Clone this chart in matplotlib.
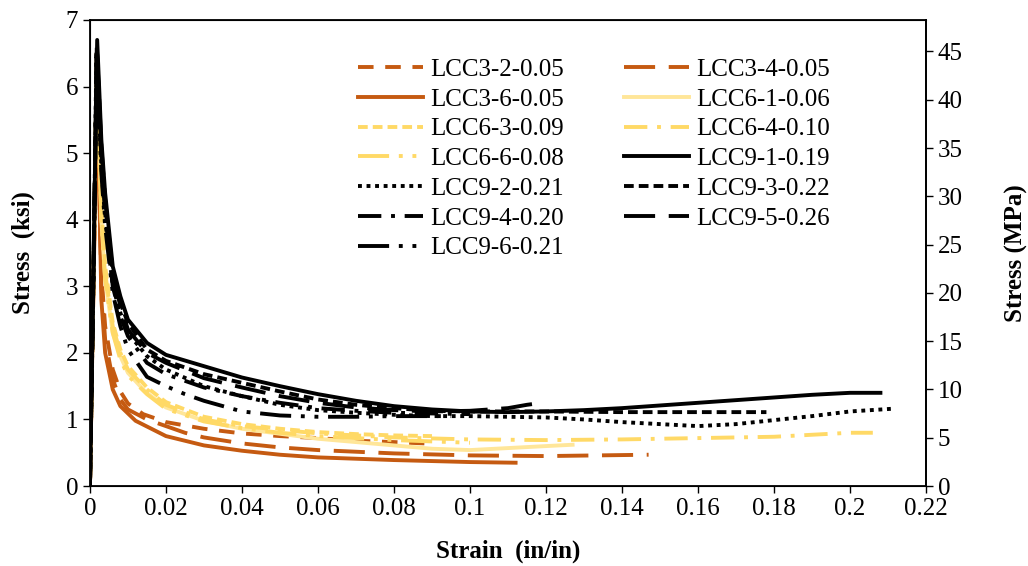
import matplotlib.pyplot as plt

plt.rcParams['font.family'] = ['Liberation Serif', 'DejaVu Serif']
plt.rcParams['font.size'] = 18

KSI_TO_MPA = 6.894757

names = ['LCC3-2-0.05', 'LCC3-4-0.05', 'LCC3-6-0.05', 'LCC6-1-0.06', 'LCC6-3-0.09',
         'LCC6-4-0.10', 'LCC6-6-0.08', 'LCC9-1-0.19', 'LCC9-2-0.21', 'LCC9-3-0.22',
         'LCC9-4-0.20', 'LCC9-5-0.26', 'LCC9-6-0.21']

# strain (in/in) and stress (ksi) for each specimen
lcc3_2_x = [0, 0.001, 0.0019, 0.003, 0.004, 0.006, 0.008, 0.01, 0.014, 0.02, 0.03, 0.04, 0.05, 0.06, 0.07, 0.08, 0.088]
lcc3_2_y = [0, 3.3, 6.2, 3.2, 2.4, 1.75, 1.42, 1.24, 1.08, 0.96, 0.86, 0.79, 0.75, 0.72, 0.68, 0.66, 0.64]

lcc3_4_x = [0, 0.001, 0.0019, 0.003, 0.004, 0.006, 0.008, 0.01, 0.015, 0.02, 0.025, 0.03, 0.04, 0.05, 0.06, 0.08, 0.1, 0.12, 0.147]
lcc3_4_y = [0, 3.2, 6.0, 3.0, 2.2, 1.6, 1.3, 1.15, 1.0, 0.9, 0.8, 0.73, 0.64, 0.58, 0.54, 0.49, 0.46, 0.45, 0.47]

lcc3_6_x = [0, 0.001, 0.0019, 0.003, 0.004, 0.006, 0.008, 0.012, 0.02, 0.03, 0.04, 0.05, 0.06, 0.08, 0.1, 0.112]
lcc3_6_y = [0, 3.3, 6.2, 2.8, 2.0, 1.45, 1.2, 0.98, 0.75, 0.61, 0.53, 0.47, 0.43, 0.39, 0.36, 0.35]

lcc6_1_x = [0, 0.001, 0.0018, 0.003, 0.004, 0.006, 0.008, 0.01, 0.0145, 0.02, 0.03, 0.04, 0.06, 0.08, 0.09, 0.1, 0.11, 0.12, 0.127]
lcc6_1_y = [0, 3.4, 6.4, 4.0, 3.1, 2.3, 1.95, 1.7, 1.42, 1.18, 0.98, 0.86, 0.71, 0.61, 0.56, 0.54, 0.57, 0.6, 0.62]

lcc6_3_x = [0, 0.001, 0.0018, 0.003, 0.004, 0.006, 0.008, 0.01, 0.015, 0.02, 0.03, 0.04, 0.05, 0.06, 0.07, 0.08, 0.09]
lcc6_3_y = [0, 3.4, 6.4, 4.2, 3.3, 2.45, 2.05, 1.8, 1.48, 1.26, 1.04, 0.93, 0.86, 0.81, 0.78, 0.76, 0.75]

lcc6_4_x = [0, 0.001, 0.0018, 0.003, 0.004, 0.006, 0.008, 0.01, 0.015, 0.02, 0.03, 0.04, 0.06, 0.08, 0.1, 0.12, 0.14, 0.16, 0.18, 0.19, 0.2, 0.206]
lcc6_4_y = [0, 3.4, 6.5, 4.1, 3.2, 2.4, 2.0, 1.75, 1.45, 1.22, 1.0, 0.9, 0.79, 0.73, 0.7, 0.69, 0.7, 0.72, 0.74, 0.77, 0.8, 0.8]

lcc6_6_x = [0, 0.001, 0.0018, 0.003, 0.004, 0.006, 0.008, 0.01, 0.015, 0.02, 0.03, 0.04, 0.05, 0.06, 0.08, 0.1]
lcc6_6_y = [0, 3.4, 6.3, 4.0, 3.1, 2.3, 1.9, 1.66, 1.38, 1.16, 0.97, 0.87, 0.8, 0.75, 0.69, 0.65]

lcc9_1_x = [0, 0.001, 0.0019, 0.003, 0.004, 0.006, 0.008, 0.01, 0.015, 0.02, 0.03, 0.04, 0.05, 0.06, 0.07, 0.08, 0.09, 0.1,
            0.11, 0.12, 0.13, 0.14, 0.15, 0.16, 0.17, 0.18, 0.19, 0.2, 0.208]
lcc9_1_y = [0, 3.6, 6.7, 5.2, 4.4, 3.3, 2.85, 2.5, 2.15, 1.97, 1.8, 1.63, 1.5, 1.38, 1.28, 1.2, 1.15, 1.12,
            1.11, 1.12, 1.14, 1.17, 1.21, 1.25, 1.29, 1.33, 1.37, 1.4, 1.4]

lcc9_2_x = [0, 0.001, 0.0017, 0.003, 0.004, 0.006, 0.008, 0.01, 0.015, 0.02, 0.03, 0.04, 0.05, 0.06, 0.07, 0.08, 0.09, 0.1,
            0.11, 0.12, 0.13, 0.14, 0.15, 0.16, 0.17, 0.18, 0.19, 0.2, 0.211]
lcc9_2_y = [0, 3.4, 6.5, 4.8, 4.0, 3.0, 2.6, 2.3, 1.95, 1.75, 1.5, 1.35, 1.22, 1.14, 1.1, 1.07, 1.05, 1.05,
            1.04, 1.03, 1.0, 0.96, 0.93, 0.9, 0.93, 0.99, 1.05, 1.12, 1.16]

lcc9_3_x = [0, 0.001, 0.0018, 0.003, 0.004, 0.006, 0.008, 0.01, 0.015, 0.02, 0.03, 0.04, 0.05, 0.06, 0.07, 0.08, 0.09, 0.1,
            0.12, 0.14, 0.16, 0.178]
lcc9_3_y = [0, 3.5, 6.6, 5.0, 4.2, 3.2, 2.75, 2.45, 2.05, 1.88, 1.68, 1.55, 1.42, 1.3, 1.22, 1.17, 1.13, 1.12,
            1.12, 1.11, 1.11, 1.11]

lcc9_4_x = [0, 0.001, 0.0018, 0.003, 0.004, 0.006, 0.008, 0.01, 0.015, 0.02, 0.03, 0.04, 0.05, 0.06, 0.07, 0.08, 0.09, 0.1]
lcc9_4_y = [0, 3.4, 6.5, 4.9, 4.1, 3.0, 2.55, 2.25, 1.85, 1.68, 1.48, 1.35, 1.25, 1.17, 1.13, 1.1, 1.09, 1.08]

lcc9_5_x = [0, 0.001, 0.0018, 0.003, 0.004, 0.006, 0.008, 0.01, 0.015, 0.02, 0.03, 0.04, 0.05, 0.06, 0.07, 0.08, 0.09, 0.1,
            0.11, 0.115, 0.119]
lcc9_5_y = [0, 3.5, 6.6, 5.1, 4.3, 3.2, 2.7, 2.35, 2.0, 1.85, 1.62, 1.48, 1.35, 1.25, 1.18, 1.14, 1.12, 1.13,
            1.17, 1.22, 1.25]

lcc9_6_x = [0, 0.001, 0.0018, 0.003, 0.004, 0.006, 0.008, 0.01, 0.015, 0.02, 0.025, 0.03, 0.035, 0.04, 0.05, 0.06, 0.07,
            0.08, 0.09, 0.095]
lcc9_6_y = [0, 3.4, 6.5, 4.7, 3.9, 2.9, 2.4, 2.05, 1.64, 1.5, 1.38, 1.28, 1.2, 1.12, 1.06, 1.04, 1.04,
            1.05, 1.05, 1.05]

strains = [lcc3_2_x, lcc3_4_x, lcc3_6_x, lcc6_1_x, lcc6_3_x, lcc6_4_x, lcc6_6_x,
           lcc9_1_x, lcc9_2_x, lcc9_3_x, lcc9_4_x, lcc9_5_x, lcc9_6_x]
stresses = [lcc3_2_y, lcc3_4_y, lcc3_6_y, lcc6_1_y, lcc6_3_y, lcc6_4_y, lcc6_6_y,
            lcc9_1_y, lcc9_2_y, lcc9_3_y, lcc9_4_y, lcc9_5_y, lcc9_6_y]

orange = '#C55A11'
light = '#FFE699'
yellow = '#FFD966'
colors = [orange, orange, orange, light, yellow, yellow, yellow,
          'black', 'black', 'black', 'black', 'black', 'black']
styles = [(0, (4, 3)), (0, (8, 3.5)), '-', '-', (0, (2.5, 1.3)), (0, (6, 2.5, 1, 2.5)), (0, (8, 2.5, 1, 2.5, 1, 2.5)),
          '-', (0, (1, 1.2)), (0, (2.5, 1.3)), (0, (6, 2.5, 1, 2.5)), (0, (8, 3.5)), (0, (8, 2.5, 1, 2.5, 1, 2.5))]

fig = plt.figure(figsize=(10.28, 5.66), dpi=100)
ax = fig.add_axes([0.0875, 0.1413, 0.8133, 0.8234])

handles = []
for x, y, c, ls, name in zip(strains, stresses, colors, styles, names):
    line, = ax.plot(x, y, color=c, linestyle=ls, linewidth=2.8, label=name)
    handles.append(line)

ax.set_xlim(0, 0.22)
ax.set_ylim(0, 7)
ax.set_xticks([0, 0.02, 0.04, 0.06, 0.08, 0.1, 0.12, 0.14, 0.16, 0.18, 0.2, 0.22])
ax.set_xticklabels(['0', '0.02', '0.04', '0.06', '0.08', '0.1', '0.12', '0.14', '0.16', '0.18', '0.2', '0.22'])
ax.set_yticks(range(0, 8))
ax.tick_params(direction='out', length=5, width=1, labelsize=18)
ax.set_xlabel('Strain  (in/in)', fontweight='bold', fontsize=18, labelpad=14)
ax.set_ylabel('Stress  (ksi)', fontweight='bold', fontsize=18, labelpad=22)
for sp in ax.spines.values():
    sp.set_linewidth(1.3)

ax2 = ax.twinx()
ax2.set_ylim(0, 7 * KSI_TO_MPA)
ax2.set_yticks(range(0, 50, 5))
ax2.tick_params(direction='out', length=5, width=1, labelsize=18)
ax2.set_ylabel('Stress (MPa)', fontweight='bold', fontsize=18, labelpad=30)
ax2.spines['right'].set_linewidth(1.3)

# legend reads row by row: put even entries in the first column
order = list(range(0, 13, 2)) + list(range(1, 13, 2))
ax.legend([handles[i] for i in order], [names[i] for i in order],
          loc='upper left', bbox_to_anchor=(0.348, 0.897), bbox_transform=fig.transFigure,
          ncol=2, frameon=False, fontsize=18, handlelength=2.6, handletextpad=0.3,
          columnspacing=2.4, labelspacing=0.29, borderpad=0, borderaxespad=0)

fig.savefig('out.png', dpi=100)
